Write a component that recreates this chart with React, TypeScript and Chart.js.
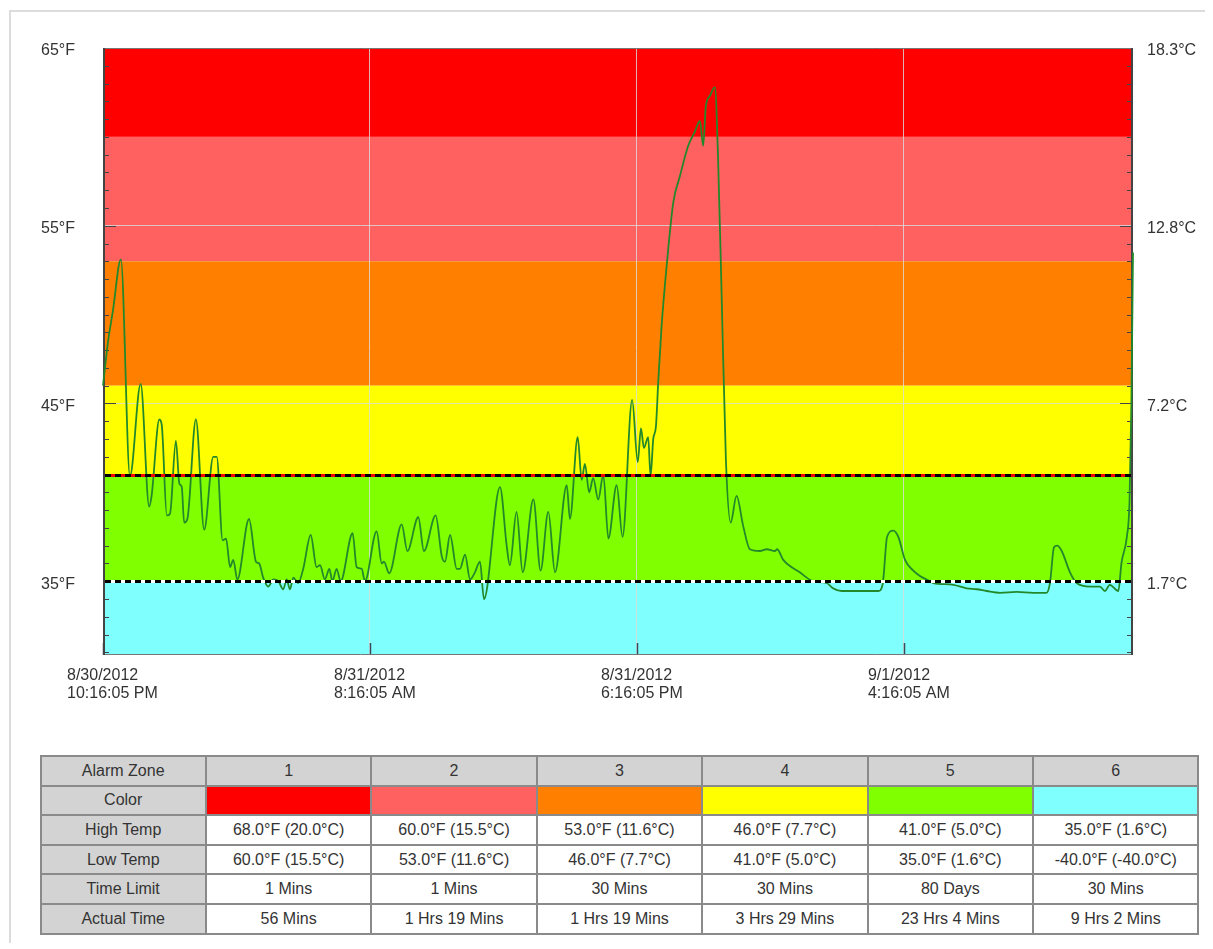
import React, { useEffect, useRef } from "react";
import { Chart, registerables } from "chart.js";
Chart.register(...registerables);

// ---- data ----
const hours = [
  0, 0.19, 0.37, 0.67, 1.01, 1.41, 1.73, 1.82, 2.11, 2.2, 2.39, 2.51, 2.73, 2.86, 2.95, 3.04, 3.16, 3.48, 3.79,
  4.13, 4.26, 4.48, 4.61, 4.76, 4.88, 5.03, 5.47, 5.73, 5.85, 6.0, 6.19, 6.38, 6.57, 6.75, 6.88, 7.0, 7.13, 7.31,
  7.5, 7.78, 8.0, 8.13, 8.31, 8.48, 8.59, 8.75, 8.9, 9.35, 9.5, 9.69, 9.81, 10.25, 10.44, 10.52, 10.72, 11.19,
  11.4, 11.81, 12.02, 12.46, 12.69, 12.81, 13.0, 13.25, 13.37, 13.56, 13.75, 13.93, 14.12, 14.27, 14.87, 15.12,
  15.24, 15.49, 15.72, 16.12, 16.39, 16.68, 16.93, 17.37, 17.49, 17.78, 17.93, 18.05, 18.21, 18.36, 18.55, 18.74,
  18.93, 19.24, 19.46, 19.82, 20.03, 20.15, 20.26, 20.42, 20.51, 20.61, 20.71, 20.8, 20.92, 21.11, 21.36, 21.61,
  21.92, 22.17, 22.36, 22.48, 22.58, 22.73, 22.92, 23.04, 23.17, 23.33, 23.51, 23.73, 23.98, 24.23, 24.61, 24.86,
  25.17, 25.25, 25.48, 26.1, 26.6, 27.1, 27.35, 27.67, 29.04, 29.2, 29.37, 29.6, 29.79, 30.04, 30.35, 30.6, 30.85,
  31.1, 31.85, 32.35, 32.72, 33.1, 33.6, 34.22, 34.84, 35.34, 35.47, 35.62, 35.74, 35.91, 36.22, 36.47, 36.97,
  37.34, 37.53, 37.71, 38.03, 38.15, 38.35, 38.45, 38.52, 38.58,
];
const tempF = [
  46.0, 48.5, 50.2, 53.1, 40.9, 46.1, 39.2, 39.8, 44.1, 43.8, 38.7, 38.8, 42.9, 40.5, 40.3, 38.3, 38.5, 44.1, 37.9,
  42.0, 42.0, 37.3, 37.4, 35.8, 36.2, 35.1, 38.5, 36.1, 36.0, 35.2, 34.7, 35.1, 35.0, 34.55, 35.1, 34.55, 35.2, 34.9,
  35.7, 37.6, 35.8, 35.9, 35.1, 35.7, 35.0, 35.7, 35.0, 37.7, 35.8, 35.7, 35.0, 37.8, 36.0, 36.1, 35.45, 38.2,
  36.7, 38.6, 36.7, 38.7, 36.4, 36.1, 37.6, 35.7, 35.7, 36.5, 35.1, 35.5, 36.1, 34.0, 40.3, 37.0,
  35.9, 38.9, 35.5, 39.6, 35.6, 38.9, 35.5, 40.4, 38.5, 43.1, 40.7, 41.6, 40.0, 40.8, 39.6, 41.0,
  37.4, 40.4, 37.5, 45.2, 41.7, 43.6, 42.5, 43.1, 40.9, 43.0, 43.7, 46.3, 49.3, 52.7, 56.3, 57.8,
  59.5, 60.3, 60.9, 59.5, 61.7, 62.3, 62.8, 58.7, 51.2, 41.9, 38.3, 39.8, 38.1, 36.8, 36.7, 36.8,
  36.7, 36.8, 36.2, 35.5, 35.0, 34.9, 34.6, 34.45, 34.45, 34.8, 37.5, 37.85, 37.5, 36.2, 35.6, 35.3, 35.1,
  34.9, 34.8, 34.6, 34.55, 34.45, 34.35, 34.4, 34.35, 34.35, 34.9, 36.9, 37.0, 36.7, 35.5, 34.9, 34.7,
  34.7, 34.45, 34.8, 34.45, 36.05, 37.5, 39.5, 45.0, 53.5,
];
const xTickValues = [0, 10, 20, 30];
const xTickLabels = [
  ["8/30/2012", "10:16:05 PM"],
  ["8/31/2012", "8:16:05 AM"],
  ["8/31/2012", "6:16:05 PM"],
  ["9/1/2012", "4:16:05 AM"],
];
const yTickValues = [35, 45, 55, 65];
const yMin = 30.85;
const yMax = 65;
const xMax = 38.58;

const zoneNames = ["1", "2", "3", "4", "5", "6"];
const zoneColors = ["#ff0000", "#ff6060", "#ff8000", "#ffff00", "#80ff00", "#80ffff"];
const zoneHighF = [68, 60, 53, 46, 41, 35];
const zoneLowF = [60, 53, 46, 41, 35, -40];
const zoneHighC = [20.0, 15.5, 11.6, 7.7, 5.0, 1.6];
const zoneLowC = [15.5, 11.6, 7.7, 5.0, 1.6, -40.0];
const timeLimit = ["1 Mins", "1 Mins", "30 Mins", "30 Mins", "80 Days", "30 Mins"];
const actualTime = ["56 Mins", "1 Hrs 19 Mins", "1 Hrs 19 Mins", "3 Hrs 29 Mins", "23 Hrs 4 Mins", "9 Hrs 2 Mins"];
const alarmLinesF = [41, 35];
const alarmLineUnder = ["#ff0000", "#ffffff"];

const FONT = "'Liberation Sans', Arial, sans-serif";
const TEXT = "#333";

const zonePlugin = {
  id: "zones",
  beforeDraw(chart: any) {
    const { ctx, chartArea, scales } = chart;
    const { left, right, top, bottom } = chartArea;
    const y = scales.y;
    ctx.save();
    ctx.beginPath();
    ctx.rect(left, top, right - left, bottom - top);
    ctx.clip();
    zoneHighF.forEach((hi, i) => {
      const y1 = y.getPixelForValue(hi);
      const y2 = y.getPixelForValue(zoneLowF[i]);
      ctx.fillStyle = zoneColors[i];
      ctx.fillRect(left, y1, right - left, y2 - y1);
    });
    ctx.restore();
  },
  beforeDatasetsDraw(chart: any) {
    const { ctx, chartArea, scales } = chart;
    const { left, right, top, bottom } = chartArea;
    const y = scales.y;
    const x = scales.x;
    ctx.save();
    // inward minor/major ticks on both y sides
    ctx.strokeStyle = "#444";
    ctx.lineWidth = 1;
    for (let v = Math.ceil(yMin); v <= yMax; v++) {
      const py = Math.round(y.getPixelForValue(v)) + 0.5;
      const len = yTickValues.includes(v) ? 13 : 6;
      ctx.beginPath();
      ctx.moveTo(left, py);
      ctx.lineTo(left + len, py);
      ctx.moveTo(right, py);
      ctx.lineTo(right - len, py);
      ctx.stroke();
    }
    // x ticks
    ctx.strokeStyle = "#3a4a5a";
    ctx.lineWidth = 1.5;
    xTickValues.forEach((v) => {
      const px = Math.round(x.getPixelForValue(v)) + 0.5;
      ctx.beginPath();
      ctx.moveTo(px, bottom);
      ctx.lineTo(px, bottom - 12);
      ctx.stroke();
    });
    // frame
    ctx.strokeStyle = "#777";
    ctx.lineWidth = 1;
    ctx.beginPath();
    ctx.moveTo(left, top + 0.5);
    ctx.lineTo(right, top + 0.5);
    ctx.moveTo(left, bottom - 0.5);
    ctx.lineTo(right, bottom - 0.5);
    ctx.stroke();
    ctx.strokeStyle = "#444";
    ctx.lineWidth = 2;
    ctx.beginPath();
    ctx.moveTo(left + 1, top);
    ctx.lineTo(left + 1, bottom);
    ctx.moveTo(right - 1, top);
    ctx.lineTo(right - 1, bottom);
    ctx.stroke();
    ctx.restore();
  },
};

const overlayPlugin = {
  id: "overlay",
  afterDatasetsDraw(chart: any) {
    const { ctx, chartArea, scales } = chart;
    const { left, right } = chartArea;
    const y = scales.y;
    ctx.save();
    alarmLinesF.forEach((v, i) => {
      const py = Math.round(y.getPixelForValue(v)) + 0.5;
      ctx.setLineDash([]);
      ctx.strokeStyle = alarmLineUnder[i];
      ctx.lineWidth = 3;
      ctx.beginPath();
      ctx.moveTo(left + 2, py);
      ctx.lineTo(right - 2, py);
      ctx.stroke();
      ctx.setLineDash([6, 4]);
      ctx.strokeStyle = "#000";
      ctx.lineWidth = 3;
      ctx.beginPath();
      ctx.moveTo(left + 2, py);
      ctx.lineTo(right - 2, py);
      ctx.stroke();
    });
    ctx.restore();
  },
};

function TempChart() {
  const ref = useRef<HTMLCanvasElement | null>(null);
  useEffect(() => {
    if (!ref.current) return;
    const points = hours.map((h, i) => ({ x: h, y: tempF[i] }));
    const gridColor = "rgba(220,220,220,0.8)";
    const chart = new Chart(ref.current, {
      type: "line",
      data: {
        datasets: [
          {
            data: points,
            borderColor: "#23882a",
            borderWidth: 1.8,
            pointRadius: 0,
            cubicInterpolationMode: "monotone",
            fill: false,
            clip: false,
          },
        ],
      },
      options: {
        animation: false,
        responsive: false,
        devicePixelRatio: 1,
        layout: { padding: { top: 18, left: 0, right: 0, bottom: 0 }, autoPadding: false },
        plugins: { legend: { display: false }, tooltip: { enabled: false } },
        scales: {
          x: {
            type: "linear",
            min: 0,
            max: xMax,
            afterBuildTicks: (s: any) => {
              s.ticks = xTickValues.map((v) => ({ value: v }));
            },
            afterFit: (s: any) => {
              s.height = 55;
              s.paddingLeft = 0;
              s.paddingRight = 0;
            },
            border: { display: false },
            grid: {
              drawTicks: false,
              color: (c: any) => (c.tick && c.tick.value !== 0 ? gridColor : "transparent"),
              lineWidth: 1,
            },
            ticks: {
              autoSkip: false,
              maxRotation: 0,
              align: "start",
              labelOffset: -36,
              padding: 11,
              color: TEXT,
              font: { family: FONT, size: 16, lineHeight: 1.15 },
              callback: (_v: any, i: number) => xTickLabels[i],
            },
          },
          y: {
            type: "linear",
            position: "left",
            min: yMin,
            max: yMax,
            afterBuildTicks: (s: any) => {
              s.ticks = yTickValues.map((v) => ({ value: v }));
            },
            afterFit: (s: any) => {
              s.width = 93;
              s.paddingTop = 0;
              s.paddingBottom = 0;
            },
            border: { display: false },
            grid: {
              drawTicks: false,
              color: (c: any) => (c.tick && (c.tick.value === 45 || c.tick.value === 55) ? gridColor : "transparent"),
            },
            ticks: {
              padding: 28,
              labelOffset: 3,
              color: TEXT,
              font: { family: FONT, size: 16 },
              callback: (v: any) => `${v}°F`,
            },
          },
          y2: {
            type: "linear",
            position: "right",
            min: yMin,
            max: yMax,
            afterBuildTicks: (s: any) => {
              s.ticks = yTickValues.map((v) => ({ value: v }));
            },
            afterFit: (s: any) => {
              s.width = 67;
              s.paddingTop = 0;
              s.paddingBottom = 0;
            },
            border: { display: false },
            grid: { display: false, drawTicks: false },
            ticks: {
              padding: 14,
              labelOffset: 3,
              color: TEXT,
              font: { family: FONT, size: 16 },
              callback: (v: any) => `${(((v as number) - 32) * 5 / 9).toFixed(1)}°C`,
            },
          },
        },
      } as any,
      plugins: [zonePlugin, overlayPlugin],
    });
    return () => chart.destroy();
  }, []);
  return (
    <canvas
      ref={ref}
      width={1190}
      height={680}
      style={{ position: "absolute", left: 2, top: 22, width: 1190, height: 680 }}
    />
  );
}

const cellBase: React.CSSProperties = {
  border: "2px solid #8a8a8a",
  padding: 0,
  textAlign: "center",
  verticalAlign: "middle",
  fontFamily: FONT,
  fontSize: 16,
  color: TEXT,
  height: 27.6,
};
const headCell: React.CSSProperties = { ...cellBase, background: "#d3d3d3" };

function ZoneTable() {
  const fmt = (f: number, c: number) => `${f.toFixed(1)}°F (${c.toFixed(1)}°C)`;
  const rows: { label: string; cells: string[] }[] = [
    { label: "High Temp", cells: zoneHighF.map((f, i) => fmt(f, zoneHighC[i])) },
    { label: "Low Temp", cells: zoneLowF.map((f, i) => fmt(f, zoneLowC[i])) },
    { label: "Time Limit", cells: timeLimit },
    { label: "Actual Time", cells: actualTime },
  ];
  return (
    <table
      style={{
        position: "absolute",
        left: 31.5,
        top: 747,
        width: 1158,
        borderCollapse: "collapse",
        tableLayout: "fixed",
      }}
    >
      <colgroup>
        {[0, 1, 2, 3, 4, 5, 6].map((i) => (
          <col key={i} style={{ width: 1158 / 7 }} />
        ))}
      </colgroup>
      <tbody>
        <tr>
          <td style={headCell}>Alarm Zone</td>
          {zoneNames.map((n) => (
            <td key={n} style={headCell}>
              {n}
            </td>
          ))}
        </tr>
        <tr>
          <td style={headCell}>Color</td>
          {zoneColors.map((c, i) => (
            <td key={i} style={{ ...cellBase, background: c }} />
          ))}
        </tr>
        {rows.map((r) => (
          <tr key={r.label}>
            <td style={headCell}>{r.label}</td>
            {r.cells.map((c, i) => (
              <td key={i} style={{ ...cellBase, background: "#fff" }}>
                {c}
              </td>
            ))}
          </tr>
        ))}
      </tbody>
    </table>
  );
}

export default function App() {
  return (
    <div style={{ position: "relative", width: 1197, height: 935 }}>
      <div
        style={{
          position: "absolute",
          left: 1,
          top: 2,
          width: 1204,
          height: 936,
          border: "2px solid #dcdcdc",
          boxSizing: "border-box",
        }}
      />
      <TempChart />
      <ZoneTable />
    </div>
  );
}
